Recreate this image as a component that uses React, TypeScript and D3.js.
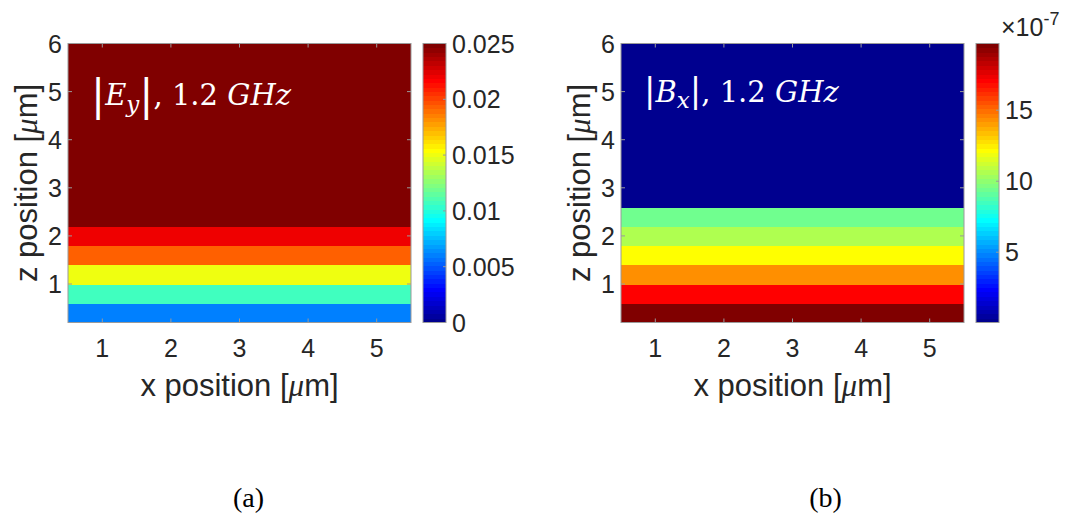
import React from "react";
import * as d3 from "d3";

// Grid of the simulated field (µm); every row is uniform along x.
const xCenters = [1, 2, 3, 4, 5];
const zCenters = [0.4, 0.8, 1.2, 1.6, 2.0, 2.4, 2.8, 3.2, 3.6, 4.0, 4.4, 4.8, 5.2, 5.6, 6.0];

// |Ey| per z row (V/m), bottom to top
const eyValues = [0.0061, 0.0107, 0.015, 0.0193, 0.0221, 0.025, 0.025, 0.025, 0.025, 0.025, 0.025, 0.025, 0.025, 0.025, 0.025];
// |Bx| per z row, in units of 1e-7 T, bottom to top
const bxValues = [19.7, 17.1, 14.3, 12.2, 10.6, 9.4, 0.05, 0.05, 0.05, 0.05, 0.05, 0.05, 0.05, 0.05, 0.05];

const eyColorLimits: [number, number] = [0, 0.025];
const bxColorLimits = d3.extent(bxValues) as [number, number];

const xDomain: [number, number] = [0.5, 5.5];
const zDomain: [number, number] = [0.2, 6];

// MATLAB jet(64), 1-based index
function jet64(j: number): string {
  const n = 16;
  const u = [
    ...d3.range(1, n + 1).map((i) => i / n),
    ...Array(n - 1).fill(1),
    ...d3.range(n, 0, -1).map((i) => i / n),
  ];
  const at = (k: number) => (k >= 1 && k <= u.length ? u[k - 1] : 0);
  return d3.rgb(at(j - 24) * 255, at(j - 8) * 255, at(j + 8) * 255).formatHex();
}

function colorIndex(v: number, lim: [number, number]) {
  const k = Math.floor(((v - lim[0]) / (lim[1] - lim[0])) * 64) + 1;
  return Math.max(1, Math.min(64, k));
}

const TOP = 43.5;
const BOTTOM = 322.5;
const PLOT_W = 343;
const CB_GAP = 12;
const CB_W = 23;
const SANS = "'Liberation Sans', Arial, Helvetica, sans-serif";
const MATH = "'DejaVu Serif', serif";
const TXT = "#262626";
const FRAME = "#9a9a9a";

type PanelProps = {
  id: string;
  x0: number;
  values: number[];
  cLim: [number, number];
  cTicks: number[];
  cFormat: (v: number) => string;
  title: React.ReactNode;
  titleY: number;
  exponent?: string;
};

function Panel({ id, x0, values, cLim, cTicks, cFormat, title, titleY, exponent }: PanelProps) {
  const x = d3.scaleLinear().domain(xDomain).range([x0, x0 + PLOT_W]);
  const y = d3.scaleLinear().domain(zDomain).range([BOTTOM, TOP]);
  const cbX = x0 + PLOT_W + CB_GAP;
  const cy = d3.scaleLinear().domain(cLim).range([BOTTOM, TOP]);
  const xTicks = x.ticks(5);
  const yTicks = y.ticks(6);
  const tick = 4;
  const half = 0.2;

  return (
    <g>
      <defs>
        <clipPath id={`clip-${id}`}>
          <rect x={x0} y={TOP} width={PLOT_W} height={BOTTOM - TOP} />
        </clipPath>
      </defs>
      <g clipPath={`url(#clip-${id})`} shapeRendering="crispEdges">
        {zCenters.map((z, zi) =>
          xCenters.map((xc) => (
            <rect
              key={`${zi}-${xc}`}
              x={x(xc - 0.5)}
              y={y(z + half)}
              width={x(xc + 0.5) - x(xc - 0.5) + 0.5}
              height={y(z - half) - y(z + half) + 0.5}
              fill={jet64(colorIndex(values[zi], cLim))}
            />
          ))
        )}
      </g>
      <rect x={x0} y={TOP} width={PLOT_W} height={BOTTOM - TOP} fill="none" stroke={FRAME} strokeWidth={1} />
      {xTicks.map((t) => (
        <g key={`xt${t}`}>
          <line x1={x(t)} x2={x(t)} y1={BOTTOM} y2={BOTTOM - tick} stroke={FRAME} />
          <line x1={x(t)} x2={x(t)} y1={TOP} y2={TOP + tick} stroke={FRAME} />
          <text x={x(t)} y={357} textAnchor="middle" fontFamily={SANS} fontSize={25} fill={TXT}>
            {t}
          </text>
        </g>
      ))}
      {yTicks.map((t) => (
        <g key={`yt${t}`}>
          <line x1={x0} x2={x0 + tick} y1={y(t)} y2={y(t)} stroke={FRAME} />
          <line x1={x0 + PLOT_W} x2={x0 + PLOT_W - tick} y1={y(t)} y2={y(t)} stroke={FRAME} />
          <text x={x0 - 6} y={y(t) + 9} textAnchor="end" fontFamily={SANS} fontSize={25} fill={TXT}>
            {t}
          </text>
        </g>
      ))}
      <text x={x0 + PLOT_W / 2} y={396} textAnchor="middle" fontFamily={SANS} fontSize={31} fill={TXT}>
        x position [<tspan fontFamily="'Liberation Serif', serif" fontStyle="italic">μ</tspan>m]
      </text>
      <text
        transform={`translate(${x0 - 31},${(TOP + BOTTOM) / 2}) rotate(-90)`}
        textAnchor="middle"
        fontFamily={SANS}
        fontSize={31}
        fill={TXT}
      >
        z position [<tspan fontFamily="'Liberation Serif', serif" fontStyle="italic">μ</tspan>m]
      </text>
      <text x={x0 + 23} y={titleY} fontFamily={MATH} fontSize={29} fill="#ffffff">
        {title}
      </text>

      {/* colour bar */}
      <g shapeRendering="crispEdges">
        {d3.range(1, 65).map((j) => {
          const v0 = cLim[0] + ((j - 1) / 64) * (cLim[1] - cLim[0]);
          const v1 = cLim[0] + (j / 64) * (cLim[1] - cLim[0]);
          return (
            <rect key={j} x={cbX} y={cy(v1)} width={CB_W} height={cy(v0) - cy(v1) + 0.5} fill={jet64(j)} />
          );
        })}
      </g>
      <rect x={cbX} y={TOP} width={CB_W} height={BOTTOM - TOP} fill="none" stroke={FRAME} />
      {cTicks.map((t) => (
        <g key={`ct${t}`}>
          <line x1={cbX + CB_W} x2={cbX + CB_W - 3} y1={cy(t)} y2={cy(t)} stroke={FRAME} />
          <text x={cbX + CB_W + 6} y={cy(t) + 9} fontFamily={SANS} fontSize={25} fill={TXT}>
            {cFormat(t)}
          </text>
        </g>
      ))}
      {exponent && (
        <text x={cbX + 25} y={36} fontFamily={SANS} fontSize={25} fill={TXT}>
          ×10
          <tspan fontSize={18} dy={-11}>
            {exponent}
          </tspan>
        </text>
      )}
    </g>
  );
}

export default function App() {
  const eyTicks = d3.ticks(eyColorLimits[0], eyColorLimits[1], 5);
  const bxTicks = d3.ticks(bxColorLimits[0], bxColorLimits[1], 4).filter((t) => t >= bxColorLimits[0]);

  const eyTitle = (
    <>
      <tspan fontSize={42} dy={5}>|</tspan>
      <tspan fontStyle="italic" dy={-5}>E</tspan>
      <tspan fontStyle="italic" fontSize={23} dy={7}>y</tspan>
      <tspan fontSize={42} dy={-2}>|</tspan>
      <tspan dy={-5}>, 1.2 </tspan>
      <tspan fontStyle="italic">GHz</tspan>
    </>
  );
  const bxTitle = (
    <>
      <tspan fontSize={34}>|</tspan>
      <tspan fontStyle="italic">B</tspan>
      <tspan fontStyle="italic" fontSize={23} dy={6}>x</tspan>
      <tspan fontSize={34} dy={-6}>|</tspan>
      <tspan>, 1.2 </tspan>
      <tspan fontStyle="italic">GHz</tspan>
    </>
  );

  return (
    <svg
      width={1072}
      height={520}
      style={{ position: "absolute", left: 0, top: 0, background: "#ffffff" }}
    >
      <Panel
        id="ey"
        x0={68}
        values={eyValues}
        cLim={eyColorLimits}
        cTicks={eyTicks}
        cFormat={d3.format("~g")}
        title={eyTitle}
        titleY={105}
      />
      <Panel
        id="bx"
        x0={621}
        values={bxValues}
        cLim={bxColorLimits}
        cTicks={bxTicks}
        cFormat={d3.format("~g")}
        title={bxTitle}
        titleY={102}
        exponent="-7"
      />
      <text x={248.5} y={507} textAnchor="middle" fontFamily="'Liberation Serif', 'Times New Roman', serif" fontSize={28} fill="#000">
        (a)
      </text>
      <text x={825.5} y={507} textAnchor="middle" fontFamily="'Liberation Serif', 'Times New Roman', serif" fontSize={28} fill="#000">
        (b)
      </text>
    </svg>
  );
}
